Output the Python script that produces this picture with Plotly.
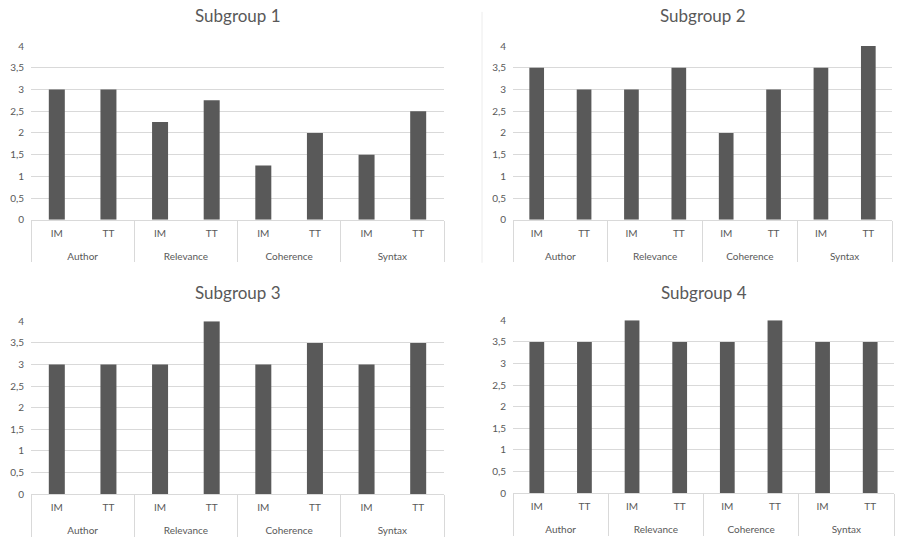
import plotly.graph_objects as go

# Category structure
criteria = ["Author", "Relevance", "Coherence", "Syntax"]
methods = ["IM", "TT"]

# Scores per subgroup, ordered Author IM/TT, Relevance IM/TT, Coherence IM/TT, Syntax IM/TT
subgroup_1 = [3.0, 3.0, 2.25, 2.75, 1.25, 2.0, 1.5, 2.5]
subgroup_2 = [3.5, 3.0, 3.0, 3.5, 2.0, 3.0, 3.5, 4.0]
subgroup_3 = [3.0, 3.0, 3.0, 4.0, 3.0, 3.5, 3.0, 3.5]
subgroup_4 = [3.5, 3.5, 4.0, 3.5, 3.5, 4.0, 3.5, 3.5]

titles = ["Subgroup 1", "Subgroup 2", "Subgroup 3", "Subgroup 4"]
y_ticks = [0, 0.5, 1, 1.5, 2, 2.5, 3, 3.5, 4]

W, H = 897, 547
BAR = "#595959"
GRID = "#d9d9d9"
TEXT = "#595959"
FONT = "Lato, 'Open Sans', sans-serif"

outer = [c for c in criteria for _ in methods]
# trailing blank line leaves room between the two label rows
inner = [m + "<br> " for _ in criteria for m in methods]

# pixel boxes of each plot area: (left, right, top, bottom), and title centre y
boxes = [
    (31, 444, 40, 218, 9),
    (513, 892, 40, 218, 9),
    (31, 444, 322, 499, 292),
    (513, 894, 321, 498, 292),
]
series = [subgroup_1, subgroup_2, subgroup_3, subgroup_4]

fig = go.Figure()
annotations = []
for i, (vals, (l, r, t, b, ty), title) in enumerate(zip(series, boxes, titles), start=1):
    sfx = "" if i == 1 else str(i)
    fig.add_trace(go.Bar(
        x=[outer, inner], y=vals,
        marker=dict(color=BAR, line=dict(width=0)),
        xaxis="x" + sfx, yaxis="y" + sfx,
        showlegend=False, hoverinfo="y",
    ))
    fig.layout["xaxis" + sfx] = dict(
        domain=[l / W, r / W], anchor="y" + sfx, type="multicategory",
        showgrid=False, showline=True, linecolor=GRID, linewidth=1,
        showdividers=True, dividercolor=GRID, dividerwidth=1,
        ticks="", ticklabelstandoff=4,
        tickfont=dict(size=10, color=TEXT, family=FONT),
        fixedrange=True,
    )
    fig.layout["yaxis" + sfx] = dict(
        domain=[1 - b / H, 1 - t / H], anchor="x" + sfx,
        range=[0, 4], tickvals=y_ticks,
        showgrid=True, gridcolor=GRID, gridwidth=1,
        zeroline=False, showline=False, ticks="",
        tickfont=dict(size=10, color=TEXT, family=FONT),
        ticklabelstandoff=6, fixedrange=True,
    )
    annotations.append(dict(
        text=title, xref="paper", yref="paper",
        x=(l + r) / 2 / W, y=1 - ty / H,
        xanchor="center", yanchor="middle", showarrow=False,
        font=dict(size=17, color=TEXT, family=FONT),
    ))

fig.update_layout(
    width=W, height=H,
    margin=dict(l=0, r=0, t=0, b=0),
    paper_bgcolor="white", plot_bgcolor="white",
    separators=",.",
    bargap=0.69,
    annotations=annotations,
    # faint frame edge of the second chart
    shapes=[dict(type="line", xref="paper", yref="paper",
                 x0=482 / W, x1=482 / W, y0=1 - 262 / H, y1=1 - 5 / H,
                 line=dict(color="#ececec", width=1))],
)

fig.write_html("out.html")
